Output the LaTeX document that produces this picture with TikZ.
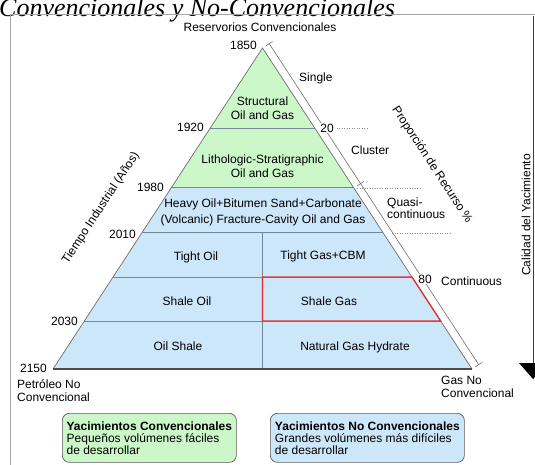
\documentclass[tikz,border=0pt]{standalone}
\usepackage{fontspec}
\setmainfont{Liberation Sans}
\newfontfamily\titlefont{Liberation Serif}
\usepackage{xcolor}
\usetikzlibrary{calc,arrows.meta}
\definecolor{convgreen}{RGB}{204,247,200}
\definecolor{unconvblue}{RGB}{204,230,250}
\definecolor{divider}{RGB}{115,135,155}
\definecolor{edgegray}{RGB}{110,110,110}
\definecolor{shalered}{RGB}{230,45,45}

\begin{document}
\begin{tikzpicture}[x=1pt, y=-1pt,
    every node/.style={font=\fontsize{12}{14}\selectfont, inner sep=0pt},
    layer/.style={align=center},
    year/.style={anchor=east},
    side/.style={anchor=west, align=left},
    pct/.style={fill=white, inner sep=1pt},
    level/.style={draw=divider, line width=1pt},
    guide/.style={draw=black!45, line width=0.6pt, dash pattern=on 1pt off 1.5pt},
    dimline/.style={draw=edgegray, line width=0.6pt},
    legend/.style={draw=black!65, rounded corners=7pt, line width=0.7pt, align=left,
                   minimum height=49pt, anchor=north west,
                   font=\fontsize{12}{12}\selectfont},
]
\useasboundingbox (0,0) rectangle (535,464);

% Title (cut by the crop) and frame
\node[anchor=base west, font=\titlefont\itshape\fontsize{26}{30}\selectfont] (title) at (-1,16) {Convencionales y No-Convencionales};
\draw[black!35, line width=0.8pt] (10,600) -- (10,14) -- (600,14);

% Triangle corners and level points
\coordinate (apex) at (262.5,48);
\coordinate (bl) at (53,369);
\coordinate (br) at (472,369);
\foreach \f [count=\i] in {0.2492,0.4361,0.5763,0.7134,0.8505}{
  \coordinate (L\i) at ($(apex)!\f!(bl)$);
  \coordinate (R\i) at ($(apex)!\f!(br)$);
}
\coordinate (mid3) at ($(L3)!0.5!(R3)$);
\coordinate (midb) at ($(bl)!0.5!(br)$);

% Fills
\fill[convgreen] (apex) -- (L2) -- (R2) -- cycle;
\fill[unconvblue] (L2) -- (bl) -- (br) -- (R2) -- cycle;

% Levels
\foreach \i in {1,...,5} \draw[level] (L\i) -- (R\i);
\draw[level] (mid3) -- (midb);

% Outline
\draw[edgegray, line width=0.7pt] (bl) -- (apex) -- (br);
\draw[black!70, line width=1.5pt] (bl) -- (br);

% Shale gas cell
\draw[shalered, line width=1.3pt] (mid3 |- R4) -- (R4) -- (R5) -- (mid3 |- R5) -- cycle;

% Resource proportion line
\coordinate (p1) at ($(apex)!8pt!90:(br)$);
\coordinate (p2) at ($(br)!8pt!-90:(apex)$);
\coordinate (p3) at ($(p1)!0.4361!(p2)$);
\draw[dimline] (p1) -- (p2);
\foreach \p/\q in {p1/p2, p3/p2, p2/p1}
  \draw[dimline] ($(\p)!4pt!90:(\q)$) -- ($(\p)!4pt!-90:(\q)$);

% Dotted guides
\draw[guide] (334,128) -- (368,128);
\draw[guide] (357,188) -- (420,188);
\draw[guide] (392,233) -- (452,233);

\node[pct] (pct20) at (327,128) {20};
\node[pct] (pct80) at (425,279) {80};

% Layer texts
\node[layer] (structural) at (262.5,108) {Structural\\Oil and Gas};
\node[layer] (litho)      at (262.5,166) {Lithologic-Stratigraphic\\Oil and Gas};
\node[layer] (heavy)      at (263,212.5) {Heavy Oil+Bitumen Sand+Carbonate\\[2pt](Volcanic) Fracture-Cavity Oil and Gas};
\node[layer] (tightoil)   at (196,257) {Tight Oil};
\node[layer] (tightgas)   at (323,256) {Tight Gas+CBM};
\node[layer] (shaleoil)   at (187,301) {Shale Oil};
\node[layer] (shalegas)   at (329,301) {Shale Gas};
\node[layer] (oilshale)   at (178,346) {Oil Shale};
\node[layer] (hydrate)    at (355,347) {Natural Gas Hydrate};

% Years
\node[year] (y1850) at (257,45)  {1850};
\node[year] (y1920) at (204,127) {1920};
\node[year] (y1980) at (164,187) {1980};
\node[year] (y2010) at (136,234) {2010};
\node[year] (y2030) at (78,321)  {2030};
\node[year] (y2150) at (47,368)  {2150};

% Side labels
\node (reserv) at (260,27) {Reservorios Convencionales};
\node[side] (single)  at (299,78)  {Single};
\node[side] (cluster) at (351,150) {Cluster};
\node[side, font=\fontsize{12}{12}\selectfont] (quasi) at (387,208) {Quasi-\\continuous};
\node[side] (continuous) at (441,281) {Continuous};
\node[side, font=\fontsize{12}{13}\selectfont] (petroleo) at (17,390.5) {Petróleo No\\Convencional};
\node[side, font=\fontsize{12}{13}\selectfont] (gasno) at (441,387) {Gas No\\Convencional};
\node[rotate=-56.8] (recurso) at (432,165) {Proporción de Recurso \%};
\node[rotate=56.8] (tiempo) at (101,208) {Tiempo Industrial (Años)};

% Quality arrow
\coordinate (qtop) at (533,16);
\coordinate (qbot) at (533,379);
\draw[black!75, line width=0.8pt] (qtop) -- (qbot);
\fill[black] (qbot) -- ++(-14,-16) -- ++(28,0) -- cycle;
\node[rotate=90] (calidad) at (526,215) {Calidad del Yacimiento};

% Legend boxes
\node[legend, fill=convgreen, minimum width=174pt] (convbox) at (62,413)
  {\textbf{Yacimientos Convencionales}\\Pequeños volúmenes fáciles\\de desarrollar};
\node[legend, fill=unconvblue, minimum width=194pt] (unconvbox) at (270,413)
  {\textbf{Yacimientos No Convencionales}\\Grandes volúmenes más difíciles\\de desarrollar};
\end{tikzpicture}
\end{document}
